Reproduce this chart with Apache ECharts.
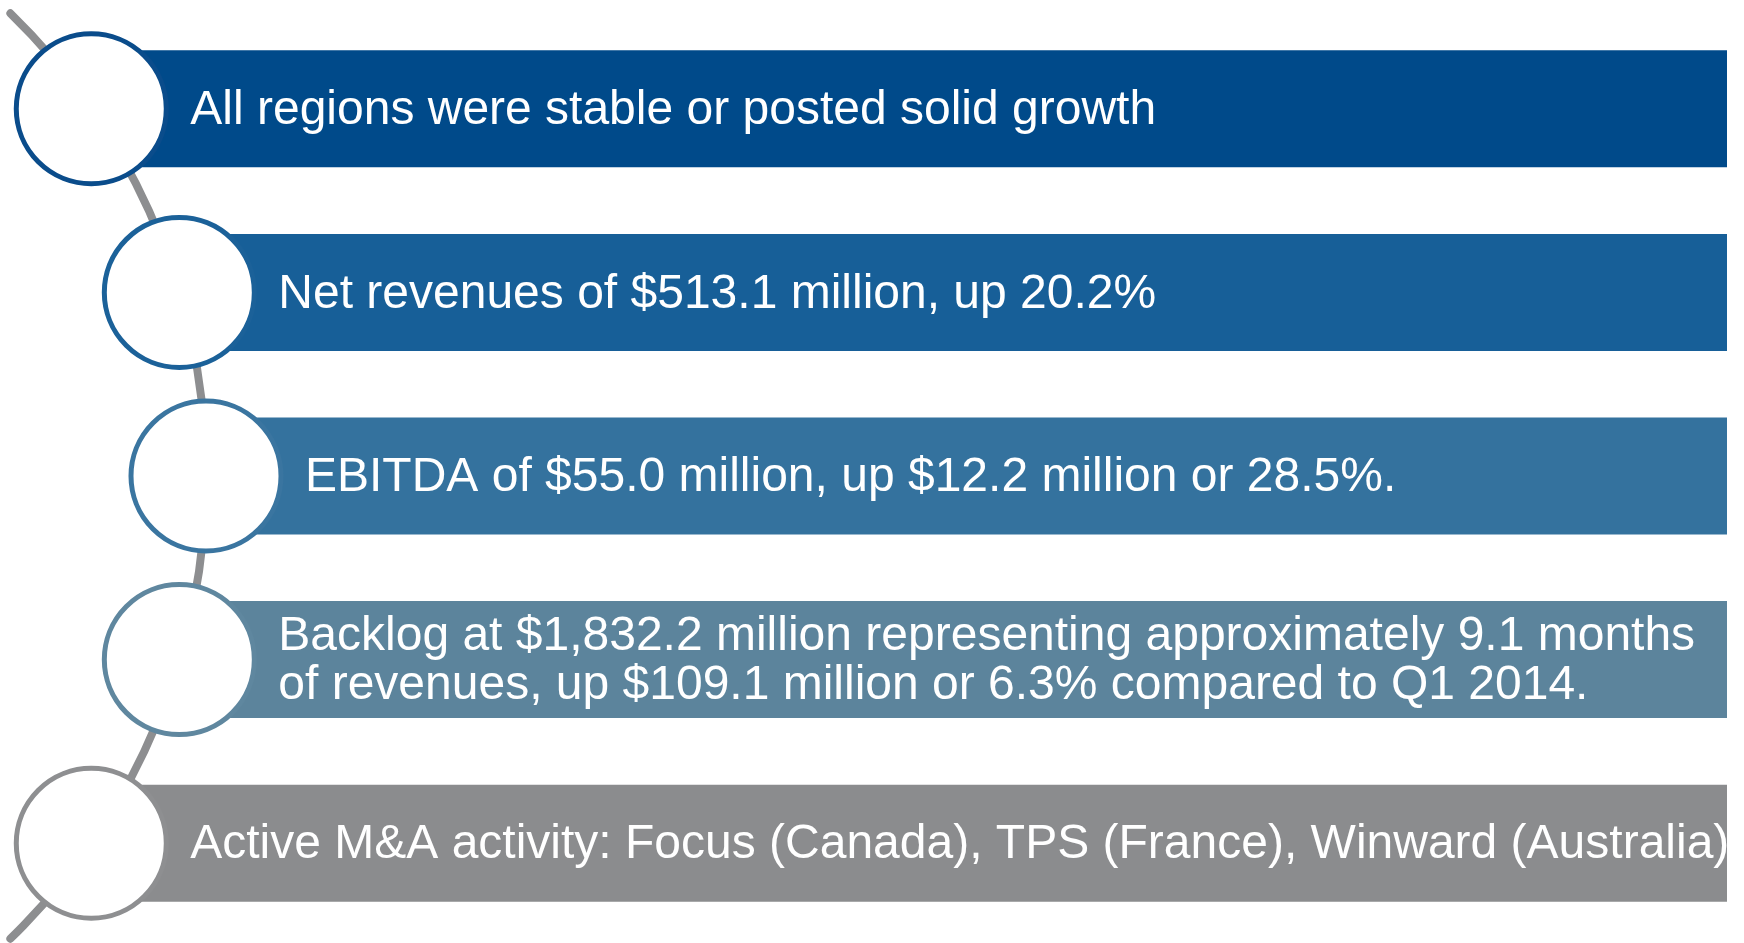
<!DOCTYPE html>
<html>
<head>
<meta charset="utf-8">
<title>Quarter highlights</title>
<script src="https://cdn.jsdelivr.net/npm/echarts@6/dist/echarts.min.js"></script>
<style>
html, body { margin: 0; padding: 0; background: #fff; }
#main { width: 1744px; height: 943px; }
</style>
</head>
<body>
<div id="main"></div>
<script>
// list items, top to bottom
const labels = [
  'All regions were stable or posted solid growth',
  'Net revenues of $513.1 million, up 20.2%',
  'EBITDA of $55.0 million, up $12.2 million or 28.5%.',
  'Backlog at $1,832.2 million representing approximately 9.1 months\nof revenues, up $109.1 million or 6.3% compared to Q1 2014.',
  'Active M&A activity: Focus (Canada), TPS (France), Winward (Australia)'
]
const barColors = ['#004a8a', '#175f98', '#34729e', '#5c849c', '#8b8c8e']
const ringColors = ['#0a4c8b', '#1b6199', '#3a75a0', '#5f879f', '#8e8f91']
// every bar runs to the right end of the axis
const barEnd = [1, 1, 1, 1, 1]

const ARC_R = 645      // radius of the grey guide curve
const ARC_X = 206 - ARC_R  // its centre, left of the page
const ARC_SWEEP = 0.80
const RING_R = 75

const chart = echarts.init(document.getElementById('main'))

const option = {
  animation: false,
  grid: { left: 0, right: 17, top: 17, height: 918 },
  xAxis: { type: 'value', min: 0, max: 1, show: false },
  yAxis: { type: 'category', data: labels, inverse: true, show: false },
  series: [
    {
      // grey curve behind the rings
      type: 'custom',
      silent: true,
      data: [[0, 2]],
      renderItem(params, api) {
        const midY = api.coord([0, 2])[1]
        return {
          type: 'arc',
          shape: { cx: ARC_X, cy: midY, r: ARC_R, startAngle: -ARC_SWEEP, endAngle: ARC_SWEEP, clockwise: true },
          style: { fill: null, stroke: '#8d8e90', lineWidth: 8, lineCap: 'round' }
        }
      }
    },
    {
      type: 'custom',
      silent: true,
      data: barEnd.map((v, i) => [v, i]),
      renderItem(params, api) {
        const i = api.value(1)
        const y = api.coord([0, i])[1]
        const midY = api.coord([0, 2])[1]
        const band = api.size([0, 1])[1]
        const dy = y - midY
        const cx = ARC_X + Math.sqrt(ARC_R * ARC_R - dy * dy)
        const right = api.coord([api.value(0), i])[0]
        const h = band * 0.637
        return {
          type: 'group',
          children: [
            {
              type: 'rect',
              shape: { x: cx, y: y - h / 2, width: right - cx, height: h },
              style: { fill: barColors[i] }
            },
            {
              type: 'circle',
              shape: { cx: cx, cy: y, r: RING_R },
              style: { fill: '#fff', stroke: ringColors[i], lineWidth: 5 }
            },
            {
              type: 'text',
              x: cx + 99,
              y: y + 2,
              style: {
                text: labels[i],
                fill: '#fff',
                font: '48px "Liberation Sans", Arial, sans-serif',
                verticalAlign: 'middle',
                lineHeight: 49
              }
            }
          ]
        }
      }
    }
  ]
}

chart.setOption(option)
</script>
</body>
</html>
